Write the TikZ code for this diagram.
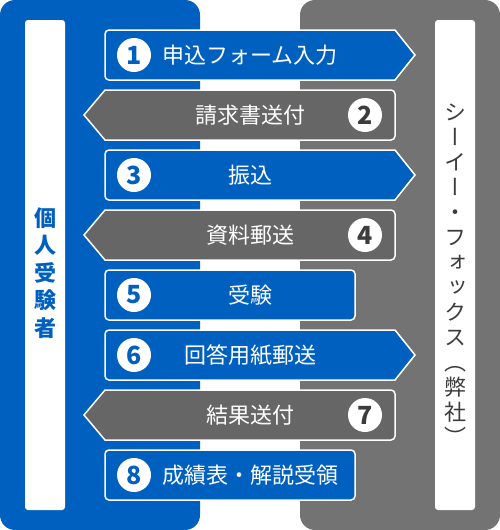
\documentclass[tikz,border=0pt]{standalone}
\usepackage{fontspec}
\usepackage{tikz}
\newfontfamily\jp{Noto Sans CJK JP}
\newfontfamily\jpv[RawFeature=+vert]{Noto Sans CJK JP}
\definecolor{cfblue}{HTML}{0060C0}
\definecolor{cfgray}{HTML}{737373}
\definecolor{cfdark}{HTML}{666666}
\definecolor{cftext}{HTML}{3C3C3C}

\begin{document}
\begin{tikzpicture}[x=1pt,y=-1pt,
  bluebox/.style={fill=cfblue,draw=white,line width=1.5pt},
  graybox/.style={fill=cfdark,draw=white,line width=1.5pt},
  steptext/.style={text=white,font=\jp\fontsize{22}{24}\selectfont,inner sep=0pt},
  num/.style={circle,fill=white,minimum size=34pt,inner sep=0pt,font=\jp\bfseries\fontsize{25}{25}\selectfont},
  side/.style={align=center,inner sep=0pt}]

  \useasboundingbox (0,0) rectangle (500,530);

  % two parties
  \fill[cfblue,rounded corners=15pt] (0,0) rectangle (200,530);
  \fill[cfgray,rounded corners=15pt] (300,0) rectangle (500,530);
  \fill[white,rounded corners=3pt] (25,20) rectangle (65,510);
  \fill[white,rounded corners=3pt] (435,20) rectangle (475,510);

  \node[side,text=cfblue,font=\jp\bfseries\fontsize{22}{27.5}\selectfont] (examinee) at (45,273)
    {個\\人\\受\\験\\者};
  \node[side,text=cftext,font=\jpv\fontsize{22}{25}\selectfont] (cfox) at (455,275)
    {シ\\ー\\イ\\ー\\・\\フ\\ォ\\ッ\\ク\\ス\\（\\弊\\社\\）};

  % steps
  \draw[bluebox] (395,30) -- (415,55) -- (395,80) -- (250,80) [rounded corners=4pt] -- (105,80) -- (105,30) -- (250,30) [sharp corners] -- cycle;
  \draw[graybox] (105,90) -- (84,115) -- (105,140) -- (250,140) [rounded corners=4pt] -- (395,140) -- (395,90) -- (250,90) [sharp corners] -- cycle;
  \draw[bluebox] (395,150) -- (415,175) -- (395,200) -- (250,200) [rounded corners=4pt] -- (105,200) -- (105,150) -- (250,150) [sharp corners] -- cycle;
  \draw[graybox] (105,210) -- (84,235) -- (105,260) -- (250,260) [rounded corners=4pt] -- (395,260) -- (395,210) -- (250,210) [sharp corners] -- cycle;
  \draw[bluebox,rounded corners=4pt] (105,270) rectangle (355,320);
  \draw[bluebox] (395,330) -- (415,355) -- (395,380) -- (250,380) [rounded corners=4pt] -- (105,380) -- (105,330) -- (250,330) [sharp corners] -- cycle;
  \draw[graybox] (105,390) -- (84,415) -- (105,440) -- (250,440) [rounded corners=4pt] -- (395,440) -- (395,390) -- (250,390) [sharp corners] -- cycle;
  \draw[bluebox,rounded corners=4pt] (105,450) rectangle (355,500);

  \node[num,text=cfblue] (n1) at (134,55) {1};
  \node[num,text=cftext] (n2) at (365,115) {2};
  \node[num,text=cfblue] (n3) at (134,175) {3};
  \node[num,text=cftext] (n4) at (365,235) {4};
  \node[num,text=cfblue] (n5) at (134,295) {5};
  \node[num,text=cfblue] (n6) at (134,355) {6};
  \node[num,text=cftext] (n7) at (365,415) {7};
  \node[num,text=cfblue] (n8) at (134,475) {8};

  \node[steptext] (s1) at (250,55) {申込フォーム入力};
  \node[steptext] (s2) at (250,115) {請求書送付};
  \node[steptext] (s3) at (250,175) {振込};
  \node[steptext] (s4) at (250,235) {資料郵送};
  \node[steptext] (s5) at (250,295) {受験};
  \node[steptext] (s6) at (250,355) {回答用紙郵送};
  \node[steptext] (s7) at (250,415) {結果送付};
  \node[steptext] (s8) at (250,475) {成績表・解説受領};
\end{tikzpicture}
\end{document}
